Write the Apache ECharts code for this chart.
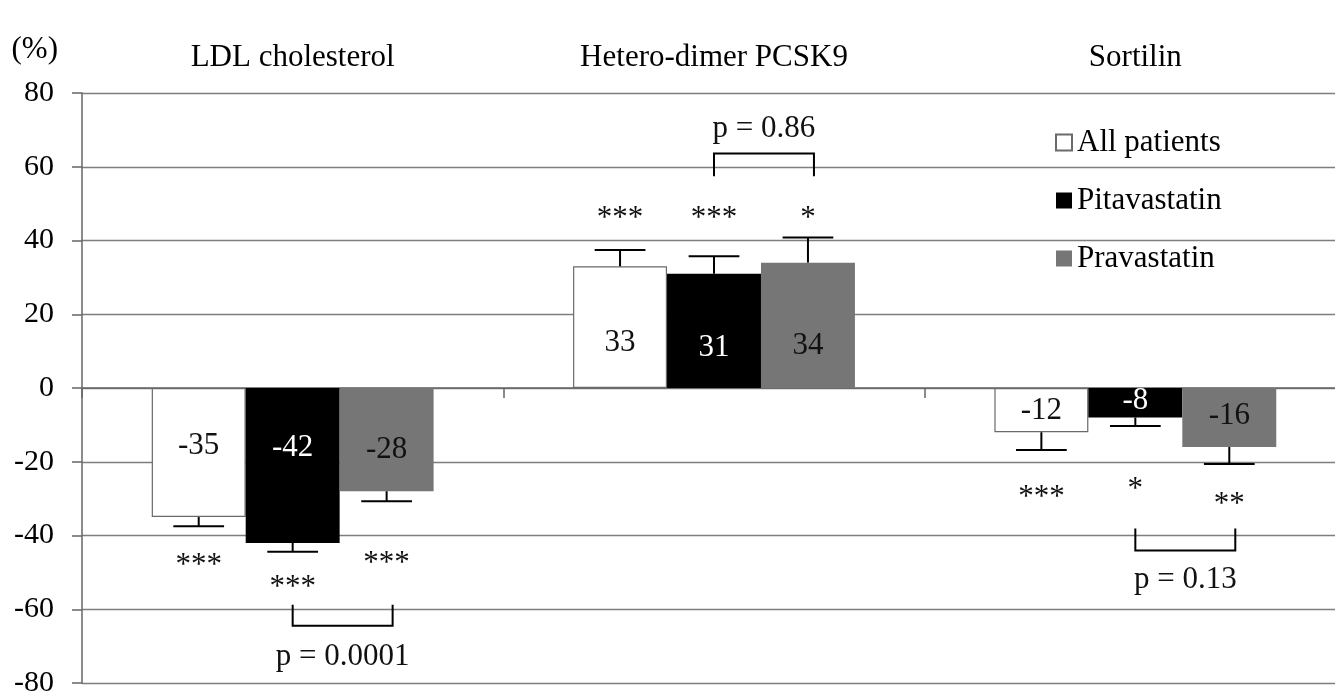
<!DOCTYPE html>
<html>
<head>
    <meta charset="utf-8">
    <title>PCSK9 / Sortilin change</title>
    <script src="https://cdn.jsdelivr.net/npm/echarts@6/dist/echarts.min.js"></script>
    <style>
        html, body { margin: 0; padding: 0; background: #fff; }
    </style>
</head>
<body>
    <div id="main" style="width: 1335px;height:692px;"></div>
</body>
<script type="text/javascript">
    // groups on the x axis
    var groups = ['LDL cholesterol', 'Hetero-dimer PCSK9', 'Sortilin'];
    var seriesNames = ['All patients', 'Pitavastatin', 'Pravastatin'];

    // % change (bar values)
    var allPatients = [-35, 33, -12];
    var pitavastatin = [-42, 31, -8];
    var pravastatin = [-28, 34, -16];

    // where the error bar ends (value + SE)
    var allPatientsErr = [-37.5, 37.4, -16.8];
    var pitavastatinErr = [-44.4, 35.7, -10.3];
    var pravastatinErr = [-30.7, 40.8, -20.6];

    // significance marks and where they sit
    var allPatientsStars = ['***', '***', '***'];
    var pitavastatinStars = ['***', '***', '*'];
    var pravastatinStars = ['***', '*', '**'];
    var allPatientsStarY = [-48.1, 45.8, -29.9];
    var pitavastatinStarY = [-54.1, 45.8, -27.5];
    var pravastatinStarY = [-47.6, 45.8, -31.8];

    // value label anchors inside the bars
    var allPatientsLabelY = [-15.6, 12.3, -6.2];
    var pitavastatinLabelY = [-16.1, 11.0, -3.6];
    var pravastatinLabelY = [-16.7, 11.4, -7.5];

    // pitavastatin vs pravastatin comparison
    var pTexts = ['p = 0.0001', 'p = 0.86', 'p = 0.13'];
    var bracketLine = [-64.5, 63.6, -44.1];
    var bracketTip = [-58.8, 57.4, -38.1];
    var pLabelY = [-72.9, 70.2, -52.0];

    var yTicks = [-80, -60, -40, -20, 0, 20, 40, 60, 80];

    var FONT = "'Liberation Serif', 'Times New Roman', serif";
    var FS = 31;
    var BAR_FRAC = 0.223;
    var barColors = ['#ffffff', '#000000', '#767676'];
    var labelColors = ['#111', '#fff', '#111'];

    var values = [allPatients, pitavastatin, pravastatin];
    var errs = [allPatientsErr, pitavastatinErr, pravastatinErr];
    var stars = [allPatientsStars, pitavastatinStars, pravastatinStars];
    var starY = [allPatientsStarY, pitavastatinStarY, pravastatinStarY];
    var labelY = [allPatientsLabelY, pitavastatinLabelY, pravastatinLabelY];

    // one annotation item per bar: [group, series, value, errEnd, labelY, starY]
    var barNotes = [];
    var barNoteText = [];
    for (var s = 0; s < 3; s++) {
        for (var g = 0; g < groups.length; g++) {
            barNotes.push([g, s, values[s][g], errs[s][g], labelY[s][g], starY[s][g]]);
            barNoteText.push({ label: String(values[s][g]), stars: stars[s][g] });
        }
    }

    var pNotes = groups.map(function (name, g) {
        return [g, bracketLine[g], bracketTip[g], pLabelY[g]];
    });

    function textEl(text, x, y, color) {
        return {
            type: 'text',
            style: {
                text: text, x: x, y: y,
                align: 'center', verticalAlign: 'middle',
                fontSize: FS, fontFamily: FONT, fill: color
            }
        };
    }

    var barSeries = seriesNames.map(function (name, s) {
        return {
            name: name,
            type: 'bar',
            xAxisIndex: 0,
            barWidth: (BAR_FRAC * 100) + '%',
            barGap: '0%',
            itemStyle: {
                color: barColors[s],
                borderColor: s === 0 ? '#6a6a6a' : barColors[s],
                borderWidth: s === 0 ? 1.2 : 0
            },
            data: values[s]
        };
    });

    var chart = echarts.init(document.getElementById('main'));
    chart.setOption({
        backgroundColor: '#fff',
        animation: false,
        textStyle: { fontFamily: FONT },
        grid: { left: 82, top: 93, width: 1264, height: 590, outerBoundsMode: 'none' },
        legend: {
            data: seriesNames,
            orient: 'vertical',
            left: 1050,
            top: 122,
            icon: 'rect',
            itemWidth: 16,
            itemHeight: 16,
            itemGap: 27,
            selectedMode: false,
            textStyle: { fontSize: FS, fontFamily: FONT, color: '#000', lineHeight: 30 }
        },
        xAxis: [{
            type: 'category',
            data: groups,
            axisLine: { onZero: true, lineStyle: { color: '#666', width: 1.5 } },
            axisTick: { show: true, length: 10, lineStyle: { color: '#666', width: 1.5 } },
            axisLabel: { show: false }
        }, {
            type: 'category',
            position: 'top',
            data: groups,
            axisLine: { show: false },
            axisTick: { show: false },
            axisLabel: { margin: 20, fontSize: FS, fontFamily: FONT, color: '#000' }
        }],
        yAxis: {
            type: 'value',
            min: yTicks[0],
            max: yTicks[yTicks.length - 1],
            interval: 20,
            name: '(%)',
            nameLocation: 'end',
            nameGap: 43,
            nameTextStyle: { fontSize: FS, fontFamily: FONT, color: '#000', align: 'right', verticalAlign: 'middle', padding: [0, 24, 0, 0] },
            axisLine: { show: true, lineStyle: { color: '#666', width: 1.5 } },
            axisTick: { show: true, length: 10, lineStyle: { color: '#666', width: 1.5 } },
            axisLabel: { margin: 28, fontSize: 30, fontFamily: FONT, color: '#000' },
            splitLine: { lineStyle: { color: '#7e7e7e', width: 1.3 } }
        },
        series: barSeries.concat([{
            type: 'custom',
            name: 'barNotes',
            xAxisIndex: 0,
            silent: true,
            z: 5,
            encode: { x: 0, y: [2, 3] },
            data: barNotes,
            renderItem: function (params, api) {
                var g = api.value(0), s = api.value(1);
                var bw = api.size([1, 0])[0] * BAR_FRAC;
                var dx = (s - 1) * bw;
                var base = api.coord([g, api.value(2)]);
                var tip = api.coord([g, api.value(3)]);
                var x = base[0] + dx;
                var cap = bw * 0.27;
                var lab = api.coord([g, api.value(4)]);
                var st = api.coord([g, api.value(5)]);
                var t = barNoteText[params.dataIndex];
                return {
                    type: 'group',
                    children: [
                        { type: 'line', shape: { x1: x, y1: base[1], x2: x, y2: tip[1] }, style: { stroke: '#000', lineWidth: 2 } },
                        { type: 'line', shape: { x1: x - cap, y1: tip[1], x2: x + cap, y2: tip[1] }, style: { stroke: '#000', lineWidth: 2 } },
                        textEl(t.label, x, lab[1], labelColors[s]),
                        textEl(t.stars, x, st[1], '#111')
                    ]
                };
            }
        }, {
            type: 'custom',
            name: 'pNotes',
            xAxisIndex: 0,
            silent: true,
            z: 5,
            encode: { x: 0, y: [1, 2] },
            data: pNotes,
            renderItem: function (params, api) {
                var g = api.value(0);
                var bw = api.size([1, 0])[0] * BAR_FRAC;
                var line = api.coord([g, api.value(1)]);
                var tipP = api.coord([g, api.value(2)]);
                var lab = api.coord([g, api.value(3)]);
                var x1 = line[0];
                var x2 = line[0] + bw + 6;
                return {
                    type: 'group',
                    children: [
                        {
                            type: 'polyline',
                            shape: { points: [[x1, tipP[1]], [x1, line[1]], [x2, line[1]], [x2, tipP[1]]] },
                            style: { stroke: '#000', lineWidth: 2, fill: null }
                        },
                        textEl(pTexts[params.dataIndex], (x1 + x2) / 2, lab[1], '#111')
                    ]
                };
            }
        }])
    });
</script>
</html>
